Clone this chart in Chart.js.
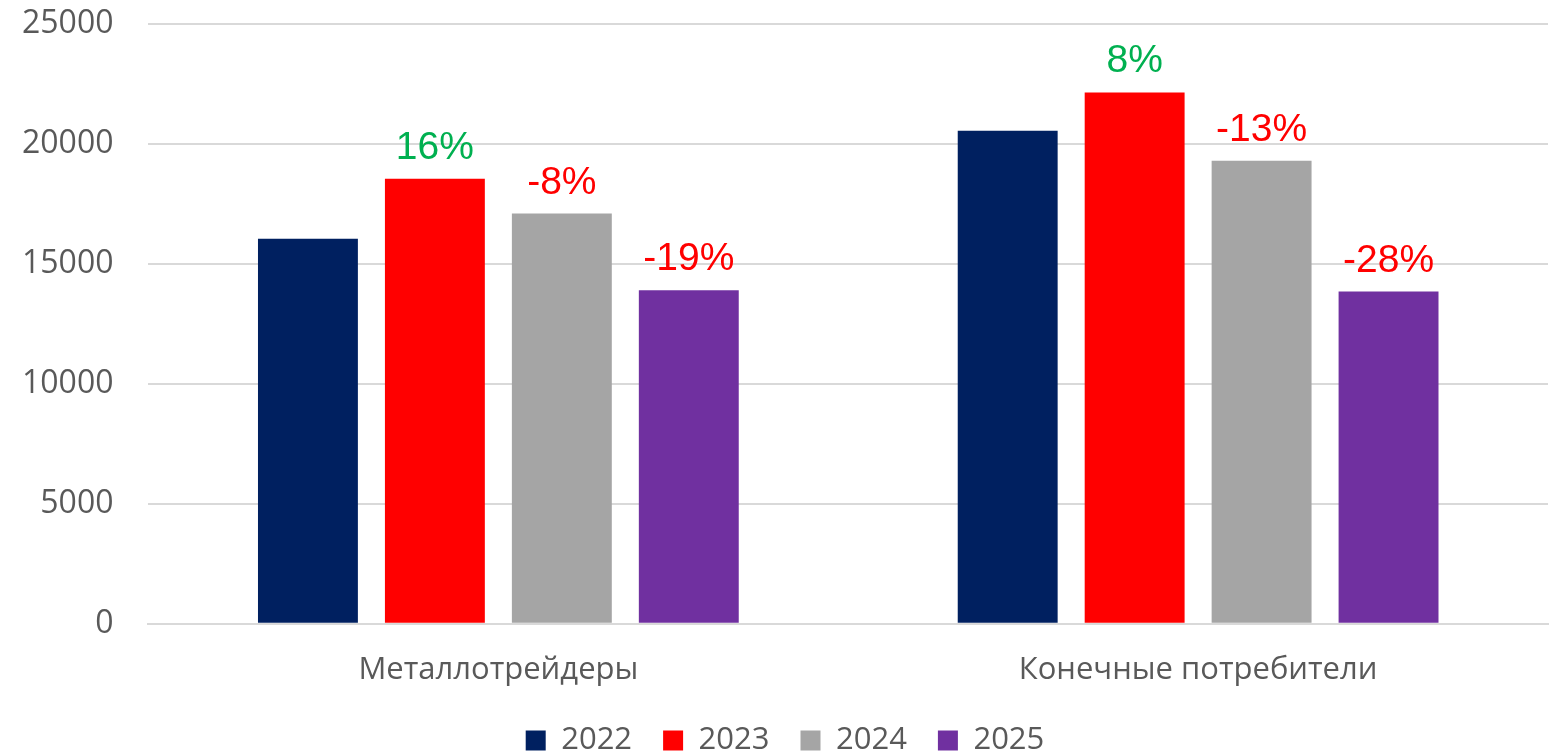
<!DOCTYPE html>
<html>
<head>
<meta charset="utf-8">
<script src="https://cdn.jsdelivr.net/npm/chart.js@4/dist/chart.umd.min.js"></script>
<style>
  html, body { margin: 0; padding: 0; background: #ffffff; }
  #wrap { position: relative; width: 1562px; height: 755px; }
</style>
</head>
<body>
<div id="wrap"><canvas id="c" width="1562" height="755"></canvas></div>
<script>
const categories = ["Металлотрейдеры", "Конечные потребители"];
const seriesNames = ["2022", "2023", "2024", "2025"];
const values2022 = [16050, 20550];
const values2023 = [18550, 22150];
const values2024 = [17100, 19300];
const values2025 = [13900, 13850];
const change2023 = [16, 8];
const change2024 = [-8, -13];
const change2025 = [-19, -28];
const yTicks = [0, 5000, 10000, 15000, 20000, 25000];

const colors = ["#002060", "#FF0000", "#A5A5A5", "#7030A0"];
const allValues = [values2022, values2023, values2024, values2025];
const allChanges = [null, change2023, change2024, change2025];

const labelPlugin = {
  id: 'pctLabels',
  afterDatasetsDraw(chart) {
    const ctx = chart.ctx;
    ctx.save();
    ctx.font = '39px "Liberation Sans", Arial, sans-serif';
    ctx.textAlign = 'center';
    ctx.textBaseline = 'alphabetic';
    chart.data.datasets.forEach((ds, di) => {
      const ch = allChanges[di];
      if (!ch) return;
      const meta = chart.getDatasetMeta(di);
      meta.data.forEach((bar, i) => {
        const v = ch[i];
        ctx.fillStyle = v >= 0 ? '#00B050' : '#FF0000';
        ctx.fillText(v + '%', bar.x, bar.y - 20);
      });
    });
    ctx.restore();
  }
};

new Chart(document.getElementById('c'), {
  type: 'bar',
  data: {
    labels: categories,
    datasets: seriesNames.map((n, i) => ({
      label: n,
      data: allValues[i],
      backgroundColor: colors[i],
      borderWidth: 0,
      categoryPercentage: 0.7257,
      barPercentage: 0.787
    }))
  },
  options: {
    responsive: false,
    animation: false,
    devicePixelRatio: 1,
    layout: { padding: { top: 24, right: 14, left: 22, bottom: -11 } },
    plugins: {
      legend: {
        position: 'bottom',
        labels: {
          boxWidth: 20,
          boxHeight: 20,
          padding: 31,
          color: '#595959',
          font: { family: '"Open Sans", sans-serif', size: 31 }
        }
      },
      tooltip: { enabled: false }
    },
    scales: {
      x: {
        grid: { display: true, drawOnChartArea: false, drawTicks: true, tickLength: 28, tickColor: 'rgba(0,0,0,0)', color: 'rgba(0,0,0,0)' },
        border: { display: true, color: '#D9D9D9', width: 2 },
        afterFit(scale) { scale.height += 5; },
        ticks: {
          color: '#595959',
          padding: 0,
          font: { family: '"Open Sans", sans-serif', size: 31 }
        }
      },
      y: {
        min: 0,
        max: 25000,
        afterBuildTicks(axis) { axis.ticks = yTicks.map(v => ({ value: v })); },
        grid: { color: '#D9D9D9', lineWidth: 2, drawTicks: true, tickLength: 35, tickColor: 'rgba(0,0,0,0)' },
        border: { display: false },
        ticks: {
          color: '#595959',
          padding: 0,
          callback: (v) => String(v),
          font: { family: '"Open Sans", sans-serif', size: 32 }
        }
      }
    }
  },
  plugins: [labelPlugin]
});
</script>
</body>
</html>
